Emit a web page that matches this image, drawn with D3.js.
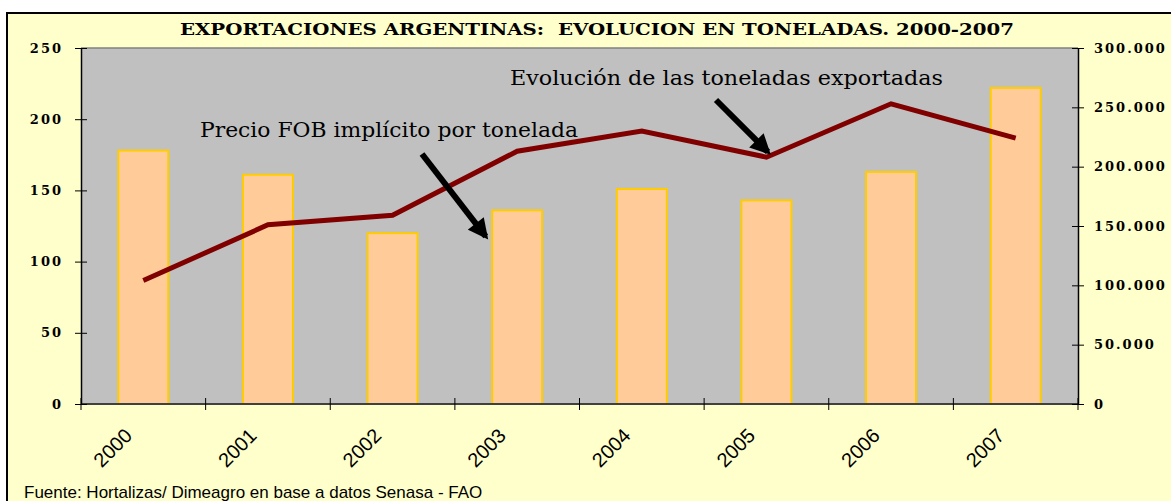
<!DOCTYPE html>
<html>
<head>
<meta charset="utf-8">
<script src="https://cdn.jsdelivr.net/npm/d3@7"></script>
<style>
  html, body { margin: 0; padding: 0; background: #ffffff; }
  svg { display: block; }
</style>
</head>
<body>
<div id="chart"></div>
<script>

// data
const years = ["2000", "2001", "2002", "2003", "2004", "2005", "2006", "2007"]
const precio_fob = [178, 161, 120, 136, 151, 143, 163, 222]
const toneladas = [104000, 151000, 159000, 213000, 230000, 208000, 253000, 224000]
const left_ticks = [0, 50, 100, 150, 200, 250]
const right_ticks = [0, 50000, 100000, 150000, 200000, 250000, 300000]

const title_text = "EXPORTACIONES ARGENTINAS:  EVOLUCION EN TONELADAS. 2000-2007"
const source_text = "Fuente: Hortalizas/ Dimeagro en base a datos Senasa - FAO"
const label_line = "Evolución de las toneladas exportadas"
const label_bars = "Precio FOB implícito por tonelada"

const width = 1171
const height = 501
const plot = {left: 81, right: 1078, top: 48, bottom: 404}

const svg = d3.select("#chart").append("svg")
    .attr("width", width)
    .attr("height", height)
    .attr("viewBox", [0, 0, width, height])

svg.append("defs").append("marker")
    .attr("id", "arrowhead")
    .attr("viewBox", "0 0 10 10")
    .attr("refX", 8)
    .attr("refY", 5)
    .attr("markerWidth", 3.6)
    .attr("markerHeight", 3.4)
    .attr("orient", "auto")
    .attr("markerUnits", "strokeWidth")
    .append("path")
    .attr("d", "M0,0 L10,5 L0,10 Z")
    .attr("fill", "black")

// outer frame
svg.append("rect")
    .attr("x", 7).attr("y", 13)
    .attr("width", width + 10).attr("height", height + 10)
    .attr("fill", "#FFFFCC")
    .attr("stroke", "#000")
    .attr("stroke-width", 2)

// plot area
svg.append("rect")
    .attr("x", plot.left).attr("y", plot.top)
    .attr("width", plot.right - plot.left).attr("height", plot.bottom - plot.top)
    .attr("fill", "#C0C0C0")

svg.append("line")
    .attr("x1", plot.left).attr("x2", plot.right)
    .attr("y1", plot.top).attr("y2", plot.top)
    .attr("stroke", "#808080").attr("stroke-width", 1.5)

var x_band = d3.scaleBand()
    .domain(years)
    .range([plot.left, plot.right])

var y_left = d3.scaleLinear()
    .domain([0, 250])
    .range([plot.bottom, plot.top])

var y_right = d3.scaleLinear()
    .domain([0, 300000])
    .range([plot.bottom, plot.top])

// bars
svg.append("g").selectAll("rect")
    .data(years)
    .join("rect")
    .attr("x", d => x_band(d) + x_band.bandwidth() / 2 - 25)
    .attr("y", (d, i) => y_left(precio_fob[i]))
    .attr("width", 50)
    .attr("height", (d, i) => y_left(0) - y_left(precio_fob[i]))
    .attr("fill", "#FFCC99")
    .attr("stroke", "#FFCC00")
    .attr("stroke-width", 2)

// x axis baseline
svg.append("line")
    .attr("x1", plot.left).attr("x2", plot.right)
    .attr("y1", plot.bottom).attr("y2", plot.bottom)
    .attr("stroke", "#404040").attr("stroke-width", 2)

var x_ticks = years.map(d => x_band(d)).concat([plot.right])
svg.append("g").selectAll("line")
    .data(x_ticks)
    .join("line")
    .attr("x1", d => d).attr("x2", d => d)
    .attr("y1", plot.bottom - 6).attr("y2", plot.bottom + 6)
    .attr("stroke", "#000").attr("stroke-width", 1)

svg.append("g").selectAll("text")
    .data(years)
    .join("text")
    .attr("transform", d => "translate(" + (x_band(d) + x_band.bandwidth() / 2 - 10) + "," + 437 + ") rotate(-45)")
    .attr("text-anchor", "end")
    .attr("font-family", "'Liberation Sans', Arial, sans-serif")
    .attr("font-size", 20)
    .attr("fill", "#000")
    .text(d => d)

// left axis
var left_axis = d3.axisLeft(y_left)
    .tickValues(left_ticks)
    .tickSizeInner(6)
    .tickSizeOuter(0)
    .tickPadding(12)
    .tickFormat(d3.format("d"))

var g_left = svg.append("g")
    .attr("transform", "translate(" + plot.left + ",0)")
    .call(left_axis)

g_left.select(".domain").attr("stroke", "#000").attr("stroke-width", 1.5)
g_left.selectAll(".tick line").attr("x1", 6).attr("stroke", "#000")
g_left.selectAll(".tick text")
    .style("font-family", "'DejaVu Serif', serif")
    .style("font-weight", "bold")
    .style("font-size", "13px")
    .style("letter-spacing", "2px")
    .style("fill", "#000")

// right axis
var right_axis = d3.axisRight(y_right)
    .tickValues(right_ticks)
    .tickSizeInner(6)
    .tickSizeOuter(0)
    .tickPadding(10)
    .tickFormat(d => d3.format(",")(d).replace(/,/g, "."))

var g_right = svg.append("g")
    .attr("transform", "translate(" + plot.right + ",0)")
    .call(right_axis)

g_right.select(".domain").attr("stroke", "#000").attr("stroke-width", 1.5)
g_right.selectAll(".tick line").attr("x1", -6).attr("stroke", "#000")
g_right.selectAll(".tick text")
    .style("font-family", "'DejaVu Serif', serif")
    .style("font-weight", "bold")
    .style("font-size", "13px")
    .style("letter-spacing", "2px")
    .style("fill", "#000")

// line of tonnes
var line = d3.line()
    .x((d, i) => x_band(years[i]) + x_band.bandwidth() / 2)
    .y(d => y_right(d))

svg.append("path")
    .datum(toneladas)
    .attr("d", line)
    .attr("fill", "none")
    .attr("stroke", "#800000")
    .attr("stroke-width", 5)
    .attr("stroke-linejoin", "miter")

// title
svg.append("text")
    .attr("x", 180)
    .attr("y", 35)
    .attr("textLength", 834)
    .attr("lengthAdjust", "spacingAndGlyphs")
    .style("font-family", "'DejaVu Serif', serif")
    .style("font-weight", "bold")
    .style("font-size", "17px")
    .style("white-space", "pre")
    .text(title_text)

// annotations
svg.append("text")
    .attr("x", 510)
    .attr("y", 85)
    .attr("textLength", 433)
    .attr("lengthAdjust", "spacingAndGlyphs")
    .style("font-family", "'DejaVu Serif', serif")
    .style("font-size", "20px")
    .text(label_line)

svg.append("text")
    .attr("x", 200)
    .attr("y", 137)
    .attr("textLength", 378)
    .attr("lengthAdjust", "spacingAndGlyphs")
    .style("font-family", "'DejaVu Serif', serif")
    .style("font-size", "20px")
    .text(label_bars)

// arrows
var arrows = [
    {x1: 422, y1: 154, x2: 487, y2: 238},
    {x1: 716, y1: 100, x2: 769, y2: 153}
]

svg.append("g").selectAll("line")
    .data(arrows)
    .join("line")
    .attr("x1", d => d.x1).attr("y1", d => d.y1)
    .attr("x2", d => d.x2 - (d.x2 - d.x1) * 0.02).attr("y2", d => d.y2 - (d.y2 - d.y1) * 0.02)
    .attr("stroke", "#000")
    .attr("stroke-width", 6)
    .attr("marker-end", "url(#arrowhead)")

// source
svg.append("text")
    .attr("x", 24)
    .attr("y", 498)
    .style("font-family", "'Liberation Sans', Arial, sans-serif")
    .style("font-size", "17px")
    .text(source_text)

</script>
</body>
</html>
